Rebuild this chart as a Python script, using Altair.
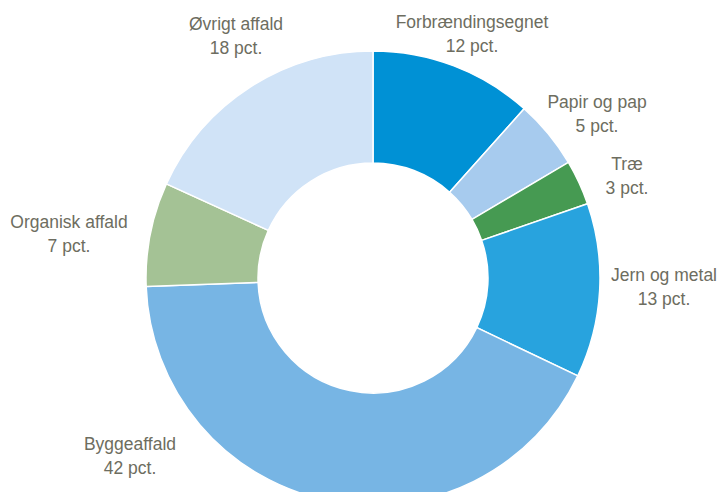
import altair as alt
import pandas as pd

# Data
categories = ["Forbrændingsegnet", "Papir og pap", "Træ", "Jern og metal",
              "Byggeaffald", "Organisk affald", "Øvrigt affald"]
shares = [11.6, 4.9, 3.2, 12.4, 42.3, 7.4, 18.2]
pct_labels = ["12 pct.", "5 pct.", "3 pct.", "13 pct.", "42 pct.", "7 pct.", "18 pct."]
colors = ["#0091D5", "#A7CBEE", "#469A52", "#28A3DE", "#77B5E4", "#A4C295", "#D0E3F7"]

# Layout constants (label offsets from the donut centre, in pixels)
label_dx = [99, 224, 254, 291, -243, -304, -137]
label_dy = [-255, -175, -113, -2, 167, -55, -253]

W, H = 710, 484
CX, CY = 365, 270
R_OUT, R_IN = 227, 115
LINE = 24

df = pd.DataFrame({
    "category": categories,
    "share": shares,
    "pct": pct_labels,
    "order": list(range(len(categories))),
})

lab = pd.DataFrame({
    "category": categories,
    "pct": pct_labels,
    "x": [CX + d for d in label_dx],
    "y1": [CY + d for d in label_dy],
})
lab["y2"] = lab["y1"] + LINE

arcs = alt.Chart(df).mark_arc(
    innerRadius=R_IN, outerRadius=R_OUT, stroke="white", strokeWidth=1.5
).encode(
    theta=alt.Theta("share:Q", stack=True),
    color=alt.Color("category:N", scale=alt.Scale(domain=categories, range=colors), legend=None),
    order=alt.Order("order:Q", sort="ascending"),
    x=alt.value(CX),
    y=alt.value(CY),
)

text_style = dict(font="Liberation Sans", fontSize=17.5, color="#6D6D60",
                  align="center", baseline="middle")

names = alt.Chart(lab).mark_text(**text_style).encode(
    x=alt.X("x:Q", scale=None, axis=None),
    y=alt.Y("y1:Q", scale=None, axis=None),
    text="category:N",
)
pcts = alt.Chart(lab).mark_text(**text_style).encode(
    x=alt.X("x:Q", scale=None, axis=None),
    y=alt.Y("y2:Q", scale=None, axis=None),
    text="pct:N",
)

chart = alt.layer(arcs, names, pcts).properties(
    width=W, height=H, autosize=alt.AutoSizeParams(type="none"), padding=0,
    background="white",
).configure_view(stroke=None)

chart.save("out.html", embed_options={"renderer": "svg", "actions": False})
